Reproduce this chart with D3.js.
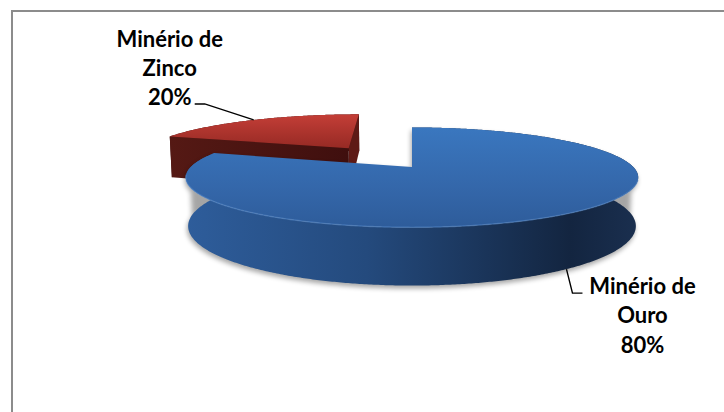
<!DOCTYPE html>
<html>
<head>
<meta charset="utf-8">
<script src="https://cdn.jsdelivr.net/npm/d3@7"></script>
<style>
  html, body { margin: 0; padding: 0; background: #ffffff; }
  svg { display: block; }
</style>
</head>
<body>
<script>
// ---- data ----
const categories = ["Minério de Ouro", "Minério de Zinco"];
const values = [80, 20];

// ---- style / layout constants ----
const W = 724, H = 412;
const sliceTop = ["url(#blueTop)", "url(#redTop)"];
const sliceSide = ["url(#blueSide)", "url(#redSide)"];
const explodeBy = [0, 0.53];

// 3D projection parameters (radius = 1 unit)
const CX = 412, CY = 167, F = 1040, DIST = 4.70;
const TILT_S = 0.216, TILT_C = Math.sqrt(1 - TILT_S * TILT_S);
const DEPTH = 0.219;

function proj(X, Zt, Y) {
  const yu = Y * TILT_C - Zt * TILT_S;
  const dep = DIST - (Zt * TILT_C + Y * TILT_S);
  return [CX + F * X / dep, CY - F * yu / dep];
}

const svg = d3.select("body").append("svg").attr("width", W).attr("height", H);
const defs = svg.append("defs");

function lin(id, x2, y2, stops) {
  const g = defs.append("linearGradient").attr("id", id)
    .attr("x1", 0).attr("y1", 0).attr("x2", x2).attr("y2", y2);
  stops.forEach(s => g.append("stop").attr("offset", s[0]).attr("stop-color", s[1]));
}
lin("blueTop", 0, 1, [[0, "#3a77bf"], [0.6, "#3467aa"], [1, "#2e5c9a"]]);
lin("blueSide", 1, 0, [[0, "#2e5d9b"], [0.4, "#244a7d"], [0.85, "#132540"], [1, "#1a2f4f"]]);
lin("redTop", 0, 1, [[0, "#c43e37"], [1, "#962a24"]]);
lin("redSide", 1, 0, [[0, "#551914"], [1, "#3f0f0e"]]);

const blur = defs.append("filter").attr("id", "shadow")
  .attr("x", "-10%").attr("y", "-10%").attr("width", "120%").attr("height", "130%");
blur.append("feGaussianBlur").attr("stdDeviation", 2.5);
const soft = defs.append("filter").attr("id", "soft");
soft.append("feGaussianBlur").attr("stdDeviation", 0.7);

// border of chart area
svg.append("rect").attr("x", 12).attr("y", 11).attr("width", 760).attr("height", 460)
  .attr("fill", "none").attr("stroke", "#8c8c8c").attr("stroke-width", 2);

const pie = d3.pie().sort(null).startAngle(0).endAngle(2 * Math.PI);
const arcs = pie(values).map((d, i) => {
  const mid = (d.startAngle + d.endAngle) / 2;
  const e = explodeBy[i];
  return Object.assign(d, { i, mid, ox: e * Math.sin(mid), oz: -e * Math.cos(mid) });
});

function pt(d, a, r, Y) {
  return proj(d.ox + r * Math.sin(a), d.oz - r * Math.cos(a), Y);
}
function arcPts(d, a0, a1, Y) {
  const n = Math.max(2, Math.ceil(Math.abs(a1 - a0) / (Math.PI / 360)));
  return d3.range(n + 1).map(k => pt(d, a0 + (a1 - a0) * k / n, 1, Y));
}
const line = d3.line();
function topPath(d) {
  return line([pt(d, 0, 0, 0), ...arcPts(d, d.startAngle, d.endAngle, 0)]) + "Z";
}
function bandPath(d, a0, a1) {
  return line([...arcPts(d, a0, a1, 0), ...arcPts(d, a1, a0, -DEPTH)]) + "Z";
}
function radialPath(d, a) {
  return line([pt(d, a, 0, 0), pt(d, a, 1, 0), pt(d, a, 1, -DEPTH), pt(d, a, 0, -DEPTH)]) + "Z";
}

const red = arcs[1], blue = arcs[0];

// red slice (behind)
const gR = svg.append("g");
gR.append("path").attr("d", bandPath(red, red.startAngle, red.endAngle)).attr("fill", "#3f0f0e");
gR.append("path").attr("d", radialPath(red, red.endAngle)).attr("fill", "#5e1a16");
gR.append("path").attr("d", radialPath(red, red.startAngle)).attr("fill", sliceSide[1]);
gR.append("path").attr("d", topPath(red)).attr("fill", sliceTop[1]);

// blue slice (front) with soft shadow
const gB = svg.append("g");
gB.append("path")
  .attr("d", bandPath(blue, Math.PI * 0.5, Math.PI * 1.5) + topPath(blue))
  .attr("fill", "#000").attr("opacity", 0.35)
  .attr("transform", "translate(-1,3)").attr("filter", "url(#shadow)");
gB.append("path").attr("d", bandPath(blue, blue.startAngle, blue.endAngle)).attr("fill", sliceSide[0]);
gB.append("path").attr("d", radialPath(blue, blue.startAngle)).attr("fill", "#1b3a63");
gB.append("path").attr("d", topPath(blue)).attr("fill", sliceTop[0]);
// bevel highlight on front rim
gB.append("path").attr("d", line(arcPts(blue, Math.PI * 0.58, Math.PI * 1.45, 0)))
  .attr("fill", "none").attr("stroke", "#5d93d6").attr("stroke-width", 1.4)
  .attr("opacity", 0.45).attr("filter", "url(#soft)");

// ---- labels ----
const fmt = v => Math.round(100 * v / d3.sum(values)) + "%";
function splitName(s) {
  const k = s.lastIndexOf(" ");
  return [s.slice(0, k), s.slice(k + 1)];
}
const labelCfg = [
  { anchorY: -DEPTH, elbow: [6, 24], tail: 10, textX: 76, firstBase: 25 }, // Ouro
  { anchorY: 0, elbow: [-49, -16], tail: -10, textX: -84, firstBase: -73 }  // Zinco
];
const lineGap = 29.2;

arcs.forEach(d => {
  const cfg = labelCfg[d.i];
  const p0 = pt(d, d.mid, 1, cfg.anchorY);
  const p1 = [p0[0] + cfg.elbow[0], p0[1] + cfg.elbow[1]];
  const p2 = [p1[0] + cfg.tail, p1[1]];
  svg.append("path").attr("d", line([p0, p1, p2]))
    .attr("fill", "none").attr("stroke", "#000").attr("stroke-width", 1.4);
  const lines = [...splitName(categories[d.i]), fmt(d.value)];
  const t = svg.append("text")
    .attr("font-family", "Lato, 'Open Sans', sans-serif")
    .attr("font-weight", "bold").attr("font-size", 22)
    .attr("fill", "#000").attr("text-anchor", "middle");
  lines.forEach((s, k) => {
    t.append("tspan").attr("x", p0[0] + cfg.textX)
      .attr("y", p0[1] + cfg.firstBase + k * lineGap).text(s);
  });
});
</script>
</body>
</html>
